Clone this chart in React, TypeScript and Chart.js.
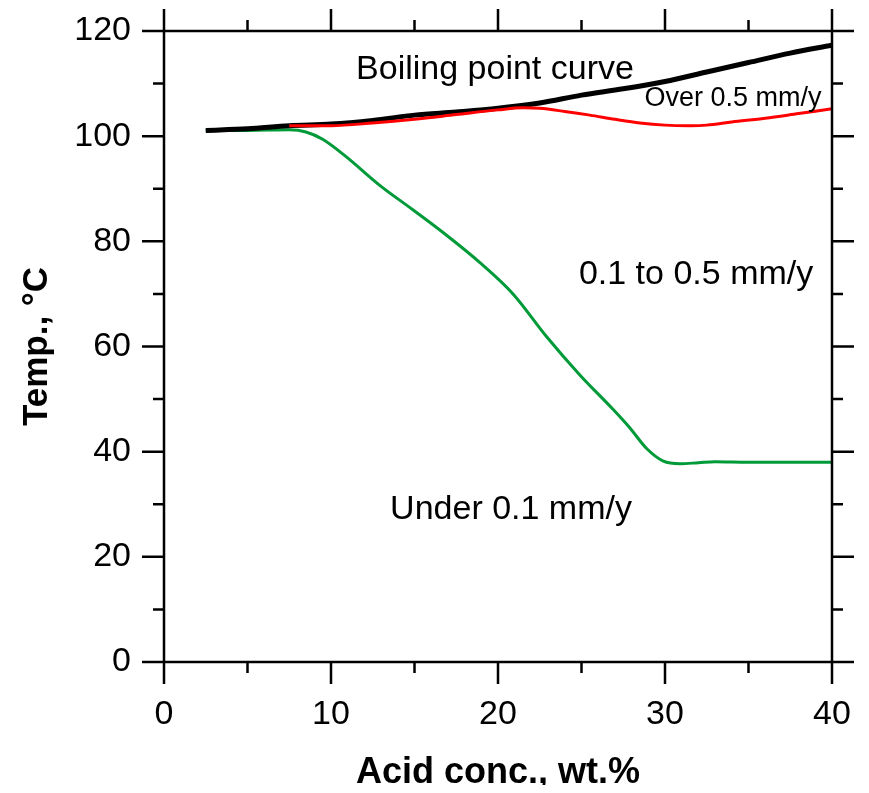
import React, { useEffect, useRef } from 'react';
import { Chart, registerables } from 'chart.js';

Chart.register(...registerables);

// ---- data ----
const boilingX = [2.5, 5, 7.5, 10, 12.5, 15, 17.5, 20, 22.5, 25, 27.5, 30, 32.5, 35, 37.5, 40];
const boilingY = [101.1, 101.4, 102.0, 102.3, 103.0, 104.0, 104.6, 105.3, 106.3, 107.8, 109.0, 110.4, 112.2, 114.0, 115.8, 117.3];

const overX = [7.5, 10, 12.5, 15, 17.5, 20, 21.5, 22.5, 24, 25.5, 27, 28.5, 30, 31.5, 32.5, 34, 36, 38, 40];
const overY = [102.0, 102.0, 102.5, 103.2, 104.1, 105.0, 105.4, 105.3, 104.7, 104.0, 103.2, 102.5, 102.1, 102.0, 102.1, 102.7, 103.4, 104.3, 105.2];

const underX = [2.5, 5, 7.5, 8.5, 9.5, 10.9, 12.9, 14.9, 16.9, 18.9, 20.9, 22.9, 24.9, 26.9, 27.9, 28.9, 29.9, 30.9, 32, 33, 35, 37.5, 40];
const underY = [101.1, 101.1, 101.2, 100.8, 99.4, 96.1, 90.7, 86.0, 81.2, 76.0, 70.0, 61.9, 54.6, 48.0, 44.5, 40.6, 38.2, 37.7, 37.9, 38.1, 38.0, 38.0, 38.0];

const xMin = 0, xMax = 40, xMajorStep = 10, xMinorStep = 5;
const yMin = 0, yMax = 120, yMajorStep = 20, yMinorStep = 10;

const xTitle = 'Acid conc., wt.%';
const yTitle = 'Temp., °C';
const regionLabels = ['Boiling point curve', 'Over 0.5 mm/y', '0.1 to 0.5 mm/y', 'Under 0.1 mm/y'];

const FONT = '"Liberation Sans", Arial, Helvetica, sans-serif';

const toPoints = (xs: number[], ys: number[]) => xs.map((x, i) => ({ x, y: ys[i] }));

// label placement (data coordinates of the text centre / baseline)
const labelPlacement = [
  { x: 19.82, y: 110.9, size: 34 },
  { x: 34.07, y: 105.8, size: 27 },
  { x: 31.86, y: 71.8, size: 34 },
  { x: 20.78, y: 27.2, size: 34 },
];

const framePlugin = {
  id: 'framePlugin',
  afterDatasetsDraw(chart: any) {
    const { ctx, chartArea } = chart;
    const { left, right, top, bottom } = chartArea;
    const xs = chart.scales.x;
    const ys = chart.scales.y;
    const major = 22;
    const minor = 11;
    ctx.save();
    ctx.strokeStyle = '#000';
    ctx.lineWidth = 2.5;
    ctx.lineCap = 'butt';
    ctx.beginPath();
    ctx.moveTo(left - major, top); ctx.lineTo(right + major, top);
    ctx.moveTo(left - major, bottom); ctx.lineTo(right + major, bottom);
    ctx.moveTo(left, top - major); ctx.lineTo(left, bottom + major);
    ctx.moveTo(right, top - major); ctx.lineTo(right, bottom + major);
    for (let v = xMin; v <= xMax; v += xMinorStep) {
      const px = xs.getPixelForValue(v);
      const len = v % xMajorStep === 0 ? major : minor;
      ctx.moveTo(px, bottom); ctx.lineTo(px, bottom + len);
      ctx.moveTo(px, top); ctx.lineTo(px, top - len);
    }
    for (let v = yMin; v <= yMax; v += yMinorStep) {
      const py = ys.getPixelForValue(v);
      const len = v % yMajorStep === 0 ? major : minor;
      ctx.moveTo(left, py); ctx.lineTo(left - len, py);
      ctx.moveTo(right, py); ctx.lineTo(right + len, py);
    }
    ctx.stroke();
    ctx.restore();
  },
  afterDraw(chart: any) {
    const { ctx } = chart;
    const xs = chart.scales.x;
    const ys = chart.scales.y;
    ctx.save();
    ctx.fillStyle = '#000';
    ctx.textAlign = 'center';
    ctx.textBaseline = 'alphabetic';
    regionLabels.forEach((t, i) => {
      const p = labelPlacement[i];
      ctx.font = `${p.size}px ${FONT}`;
      ctx.fillText(t, xs.getPixelForValue(p.x), ys.getPixelForValue(p.y));
    });
    ctx.restore();
  },
};

const zeroPad = (scale: any) => {
  scale.paddingTop = 0;
  scale.paddingBottom = 0;
  scale.paddingLeft = 0;
  scale.paddingRight = 0;
};

export default function App() {
  const ref = useRef<HTMLCanvasElement | null>(null);

  useEffect(() => {
    if (!ref.current) return;
    Chart.defaults.font.family = FONT;
    const chart = new Chart(ref.current, {
      type: 'line',
      data: {
        datasets: [
          {
            label: 'Over 0.5 mm/y',
            data: toPoints(overX, overY),
            borderColor: '#ff0000',
            borderWidth: 3,
            pointRadius: 0,
            cubicInterpolationMode: 'monotone',
            fill: false,
          },
          {
            label: 'Boiling point curve',
            data: toPoints(boilingX, boilingY),
            borderColor: '#000000',
            borderWidth: 5,
            pointRadius: 0,
            cubicInterpolationMode: 'monotone',
            fill: false,
          },
          {
            label: 'Under 0.1 mm/y',
            data: toPoints(underX, underY),
            borderColor: '#009a38',
            borderWidth: 3,
            pointRadius: 0,
            cubicInterpolationMode: 'monotone',
            fill: false,
          },
        ],
      },
      options: {
        animation: false,
        responsive: true,
        maintainAspectRatio: false,
        layout: { padding: { top: 23, right: 29, left: 0, bottom: 0 } },
        plugins: {
          legend: { display: false },
          tooltip: { enabled: false },
        },
        scales: {
          x: {
            type: 'linear',
            min: xMin,
            max: xMax,
            grid: { display: false, drawTicks: false },
            border: { display: false },
            ticks: {
              stepSize: xMajorStep,
              color: '#000',
              font: { size: 34, family: FONT },
              padding: 32,
              maxRotation: 0,
            },
            title: {
              display: true,
              text: xTitle,
              color: '#000',
              font: { size: 36, weight: 'bold', family: FONT, lineHeight: 1 },
              padding: { top: 0, bottom: -6 },
            },
            afterFit: (scale: any) => { scale.height = 123; zeroPad(scale); },
          },
          y: {
            type: 'linear',
            min: yMin,
            max: yMax,
            grid: { display: false, drawTicks: false },
            border: { display: false },
            ticks: {
              stepSize: yMajorStep,
              color: '#000',
              font: { size: 34, family: FONT },
              padding: 33,
            },
            title: {
              display: true,
              text: yTitle,
              color: '#000',
              font: { size: 35, weight: 'bold', family: FONT, lineHeight: 1 },
              padding: { top: 12, bottom: 0 },
            },
            afterFit: (scale: any) => { scale.width = 156; zeroPad(scale); },
          },
        },
      },
      plugins: [framePlugin],
    } as any);
    return () => chart.destroy();
  }, []);

  return (
    <div style={{ position: 'relative', width: '853px', height: '777px' }}>
      <canvas ref={ref} style={{ display: 'block' }} />
    </div>
  );
}
